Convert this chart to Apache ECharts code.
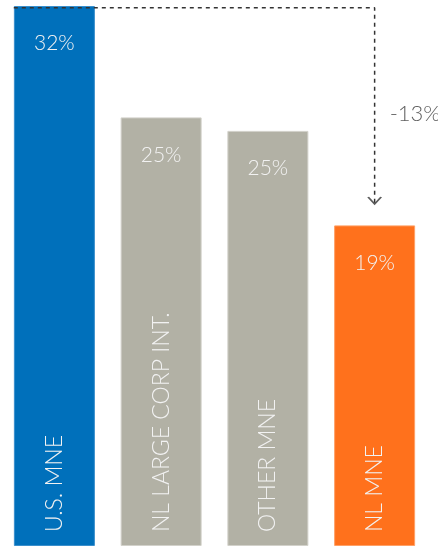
<!DOCTYPE html>
<html>
<head>
<meta charset="utf-8">
<script src="https://cdn.jsdelivr.net/npm/echarts@6/dist/echarts.min.js"></script>
<style>
  html, body { margin: 0; padding: 0; background: #fff; }
  #chart { width: 438px; height: 546px; }
</style>
</head>
<body>
<div id="chart"></div>
<script>
// categories and values
const categories = ['U.S. MNE', 'NL LARGE CORP INT.', 'OTHER MNE', 'NL MNE']
const values = [32, 25.4, 24.6, 19]
const valueLabels = ['32%', '25%', '25%', '19%']
const barColors = ['#0070bb', '#b2b1a5', '#b2b1a5', '#ff711c']
const edgeColors = ['#3a8fcc', '#d2d1ca', '#d2d1ca', '#ffa066']

// dashed arrow from top of first bar to last bar
const arrowPath = [[-0.38, 31.9], [3, 31.9], [3, 20.3]]
const arrowTip = [3, 20.3]
const diffLabel = '-13%'
const diffLabelPos = [3, 25.6]

const myChart = echarts.init(document.getElementById('chart'))

const barData = values.map((v, i) => ({
    value: v,
    itemStyle: { color: barColors[i], borderColor: edgeColors[i], borderWidth: 1 },
    label: { formatter: valueLabels[i] }
}))

myChart.setOption({
    animation: false,
    grid: { left: 1, top: 6, width: 427, height: 541, containLabel: false },
    xAxis: [
        {
            type: 'category',
            data: categories,
            axisLine: { show: false },
            axisTick: { show: false },
            axisLabel: {
                inside: true,
                rotate: 90,
                margin: 14,
                color: '#f2f2f2',
                fontFamily: 'Lato',
                fontWeight: 300,
                fontSize: 23
            },
            z: 10
        },
        {
            type: 'value',
            min: -0.5,
            max: 3.5,
            show: false
        }
    ],
    yAxis: {
        type: 'value',
        min: 0,
        max: 32,
        show: false
    },
    series: [
        {
            type: 'bar',
            data: barData,
            barWidth: 81,
            label: {
                show: true,
                position: 'insideTop',
                distance: 27,
                color: '#f2f2f2',
                fontFamily: 'Lato',
                fontWeight: 300,
                fontSize: 21
            }
        },
        {
            type: 'line',
            xAxisIndex: 1,
            data: arrowPath,
            showSymbol: false,
            silent: true,
            lineStyle: { color: '#333', width: 1.5, type: [4, 4] },
            z: 5
        },
        {
            type: 'scatter',
            xAxisIndex: 1,
            data: [arrowTip],
            symbol: 'path://M0,0 L6,6 L12,0',
            symbolSize: [13, 7],
            symbolOffset: [0, -3],
            itemStyle: { color: 'rgba(0,0,0,0)', borderColor: '#333', borderWidth: 1.5 },
            z: 6
        },
        {
            type: 'scatter',
            xAxisIndex: 1,
            data: [diffLabelPos],
            symbolSize: 0,
            label: {
                show: true,
                position: 'right',
                distance: 15,
                formatter: diffLabel,
                color: '#333',
                fontFamily: 'Lato',
                fontWeight: 300,
                fontSize: 22
            }
        }
    ]
})
</script>
</body>
</html>
